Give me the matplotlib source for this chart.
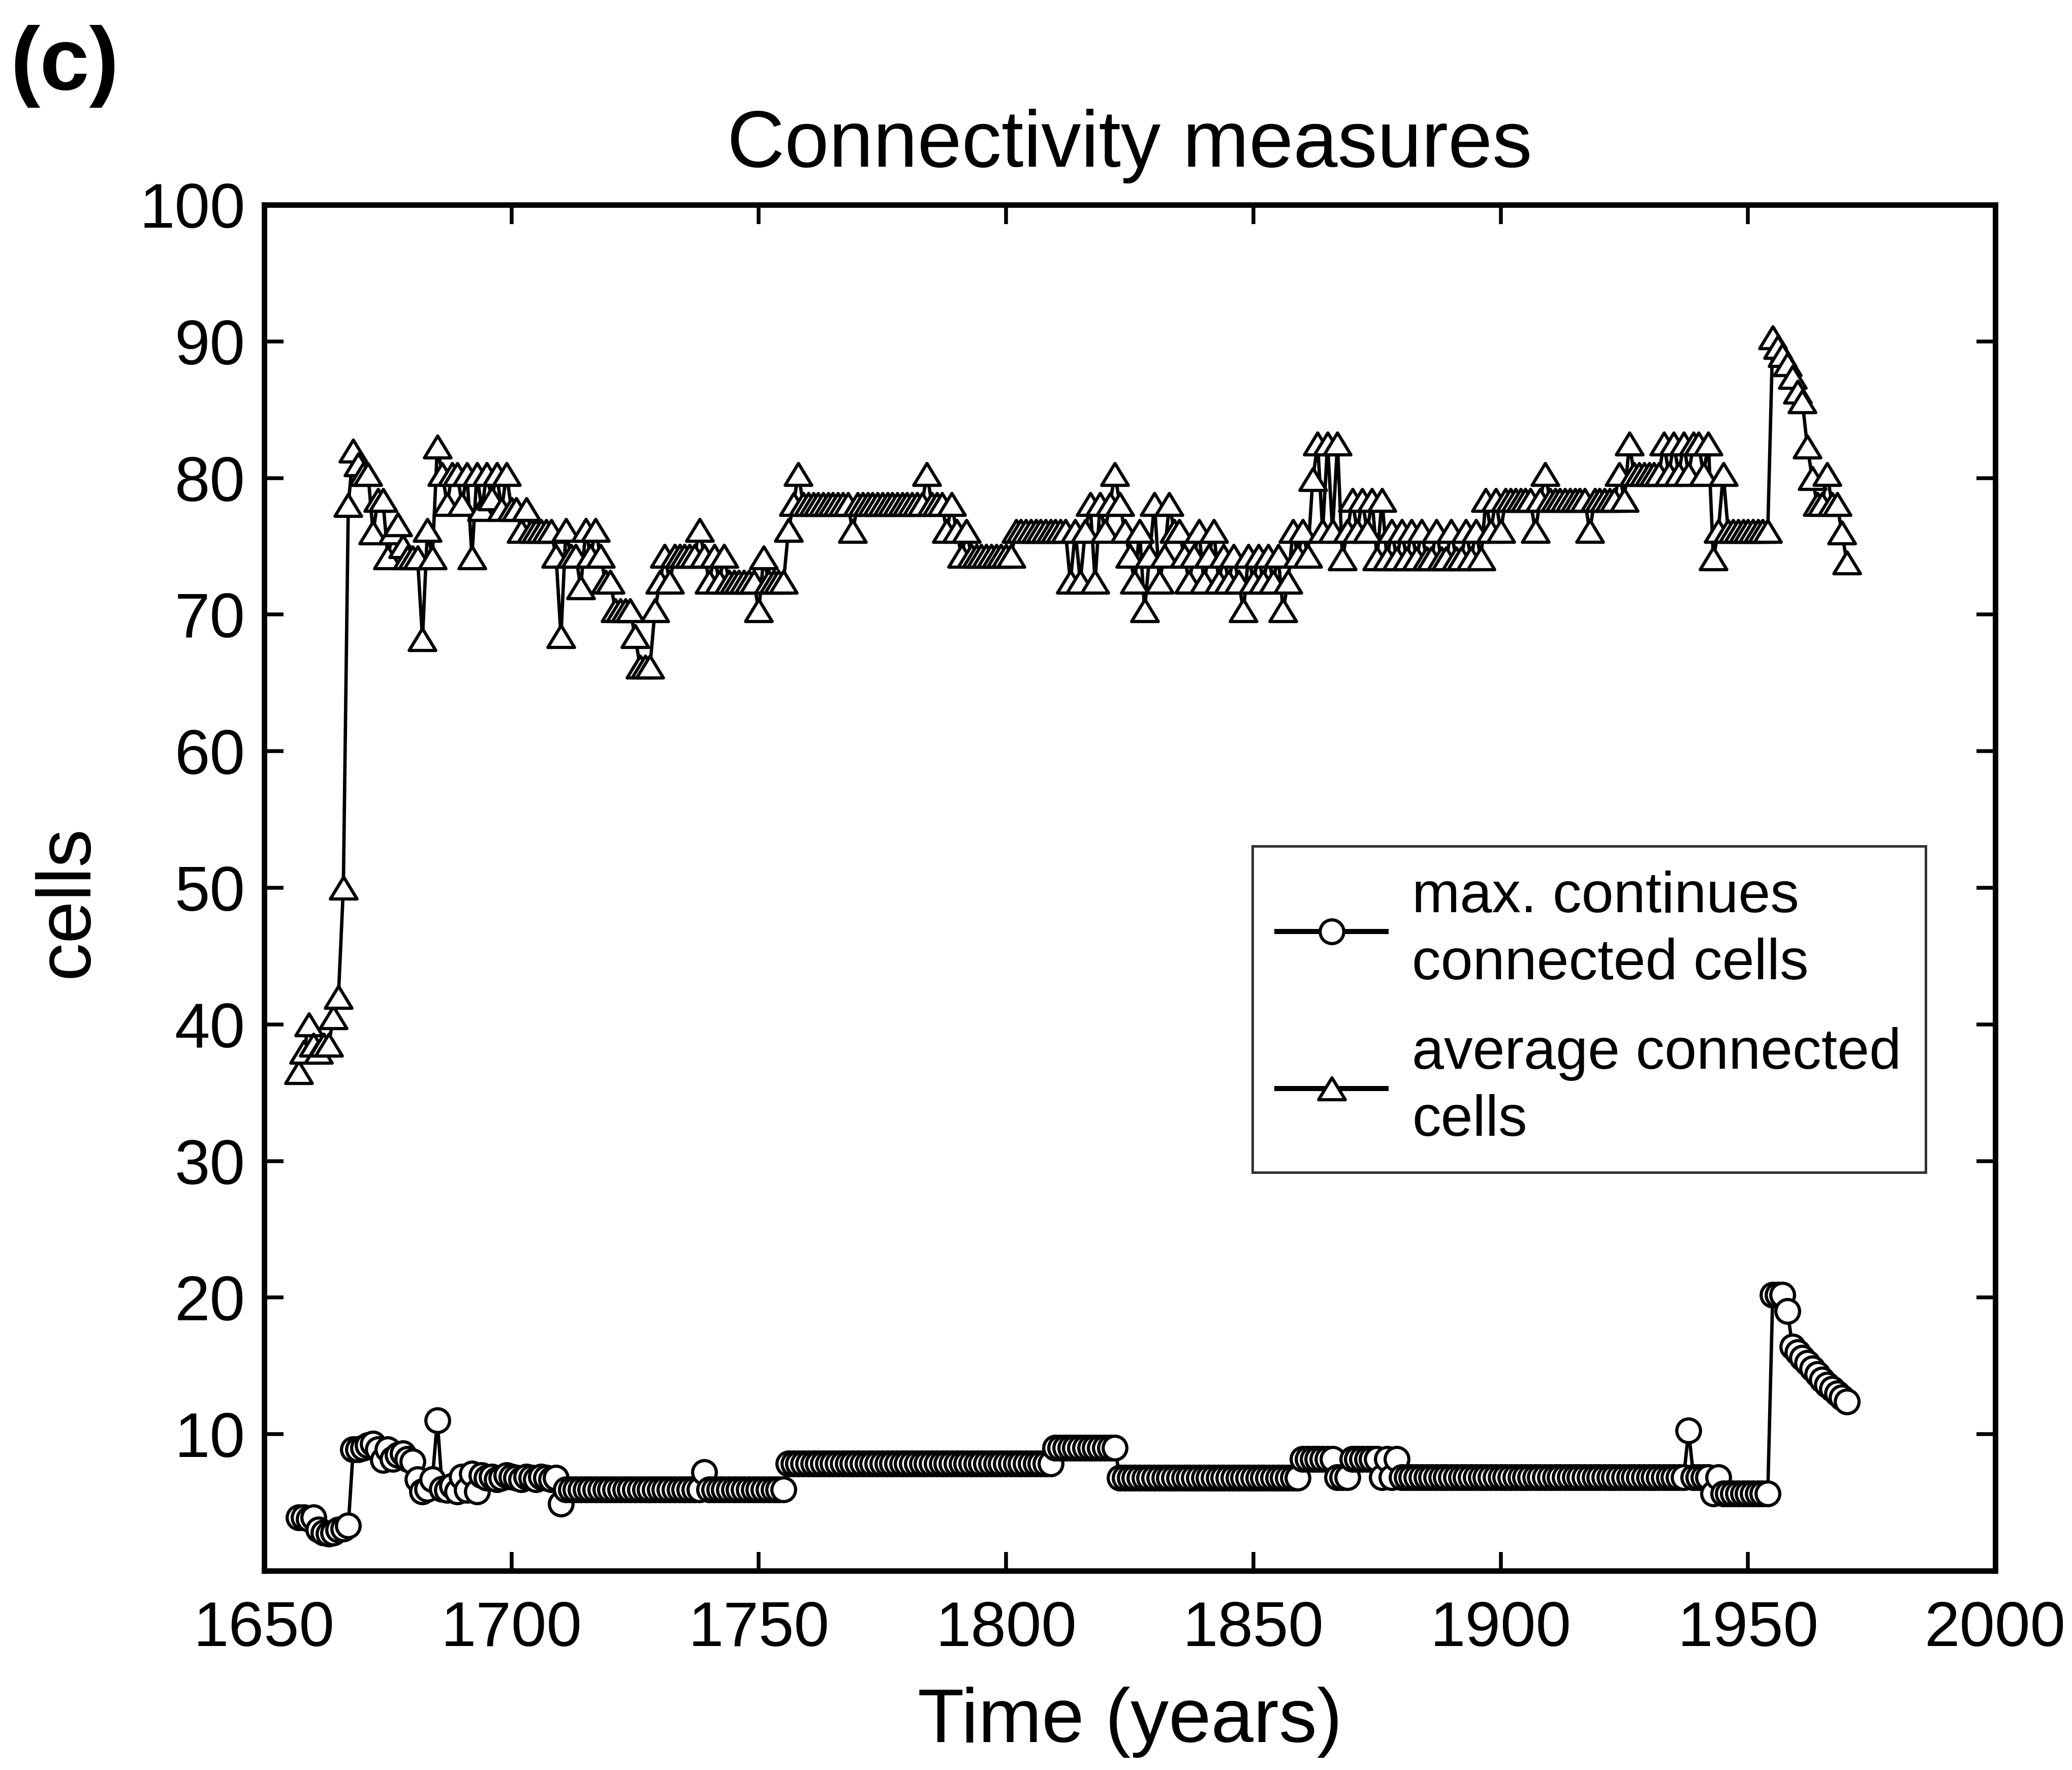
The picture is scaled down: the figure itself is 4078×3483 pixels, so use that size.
import numpy as np
import matplotlib
matplotlib.use("Agg")
import matplotlib.pyplot as plt
from matplotlib.path import Path

plt.rcParams['font.family'] = ['Liberation Sans', 'DejaVu Sans']

# years of the model run (one step per year)
years = np.arange(1657, 1971)

# max. continues connected cells (circles), 1657-1659 then one row per decade
max_cells = (
    [3.9, 3.9, 3.8]
    + [3.9, 3.0, 2.8, 2.7, 2.8, 3.0, 3.1, 3.3, 8.9, 8.9]                       # 1660s
    + [9.0, 9.2, 9.3, 8.9, 8.1, 8.9, 8.2, 8.5, 8.6, 8.2]                       # 1670s
    + [8.0, 6.7, 5.8, 6.0, 6.7, 11.0, 6.0, 5.9, 6.2, 5.8]                      # 1680s
    + [6.9, 5.9, 7.1, 5.8, 7.0, 6.8, 6.9, 6.7, 6.8, 7.0]                       # 1690s
    + [6.9, 6.8, 6.7, 6.9, 6.8, 6.7, 6.9, 6.8, 6.7, 6.8]                       # 1700s
    + [4.9] + [5.95] * 9                                                        # 1710s
    + [5.95] * 10                                                               # 1720s
    + [5.95] * 9 + [7.2]                                                        # 1730s
    + [5.95] * 10                                                               # 1740s
    + [5.95] * 6 + [7.85] * 4                                                   # 1750s
    + [7.85] * 10 + [7.85] * 10 + [7.85] * 10 + [7.85] * 10 + [7.85] * 10       # 1760s-1800s
    + [9.0] * 10                                                                # 1810s
    + [9.0] * 3 + [6.8] * 7                                                     # 1820s
    + [6.8] * 10 + [6.8] * 10                                                   # 1830s-1840s
    + [6.8] * 10                                                                # 1850s
    + [8.2] * 7 + [6.85] * 3                                                    # 1860s
    + [8.2] * 6 + [6.85, 8.2, 6.85, 8.2]                                        # 1870s
    + [6.85] * 10 + [6.85] * 10 + [6.85] * 10 + [6.85] * 10 + [6.85] * 10       # 1880s-1920s
    + [6.85] * 8 + [10.25, 6.85]                                                # 1930s
    + [6.85, 6.85, 6.85, 5.65, 6.85, 5.65, 5.65, 5.65, 5.65, 5.65]             # 1940s
    + [5.65, 5.65, 5.65, 5.65, 5.65, 20.2, 20.2, 20.2, 19.0, 16.4]             # 1950s
    + [16.0, 15.6, 15.2, 14.8, 14.4, 14.0, 13.6, 13.3, 13.0, 12.7]             # 1960s
    + [12.4]                                                                    # 1970
)

# average connected cells (triangles)
avg_cells = (
    [36.5, 38.0, 40.0]
    + [38.5, 38.0, 38.5, 38.5, 40.5, 42.0, 50.0, 78.0, 82.0, 81.0]             # 1660s
    + [80.3, 80.3, 76.0, 78.4, 78.4, 74.2, 76.0, 76.6, 75.0, 74.2]             # 1670s
    + [74.2, 74.2, 68.2, 76.2, 74.2, 82.3, 80.3, 78.1, 80.3, 80.3]             # 1680s
    + [78.1, 80.3, 74.2, 80.3, 77.7, 80.3, 78.5, 80.3, 77.7, 80.3]             # 1690s
    + [77.7, 77.7, 76.1, 77.7, 76.1, 76.1, 76.1, 76.1, 76.1, 74.3]             # 1700s
    + [68.4, 76.2, 74.3, 74.3, 72.0, 76.2, 74.3, 76.2, 74.3, 72.4]             # 1710s
    + [72.4, 70.3, 70.3, 70.3, 70.3, 68.4, 66.2, 66.2, 66.2, 70.3]             # 1720s
    + [72.4, 74.3, 72.4, 74.3, 74.3, 74.3, 74.3, 74.3, 76.2, 74.3]             # 1730s
    + [72.4, 74.3, 72.4, 74.3, 72.4, 72.4, 72.4, 72.4, 72.4, 72.4]             # 1740s
    + [70.3, 74.2, 72.4, 72.4, 72.4, 72.4, 76.2, 78.1, 80.3, 78.1]             # 1750s
    + [78.1] * 9 + [76.1]                                                       # 1760s
    + [78.1] * 10                                                               # 1770s
    + [78.1, 78.1, 78.1, 78.1, 80.3, 78.1, 78.1, 78.1, 76.1, 78.1]             # 1780s
    + [76.1, 74.3, 76.1, 74.3, 74.3, 74.3, 74.3, 74.3, 74.3, 74.3]             # 1790s
    + [74.3, 74.3, 76.1, 76.1, 76.1, 76.1, 76.1, 76.1, 76.1, 76.1]             # 1800s
    + [76.1, 76.1, 76.1, 72.4, 76.1, 72.4, 76.1, 78.1, 72.4, 78.1]             # 1810s
    + [76.1, 78.1, 80.3, 78.1, 76.1, 74.3, 72.4, 76.1, 70.3, 74.3]             # 1820s
    + [78.1, 72.4, 74.3, 78.1, 76.1, 76.1, 74.3, 72.4, 74.3, 76.1]             # 1830s
    + [72.4, 74.3, 76.1, 72.4, 74.3, 72.4, 74.3, 72.4, 70.3, 74.3]             # 1840s
    + [72.4, 74.3, 72.4, 74.3, 72.4, 74.3, 70.3, 72.4, 76.1, 74.3]             # 1850s
    + [76.1, 74.3, 79.9, 82.5, 76.1, 82.5, 76.1, 82.5, 74.1, 76.1]             # 1860s
    + [78.4, 76.1, 78.4, 76.1, 78.4, 74.1, 78.4, 74.1, 76.1, 74.1]             # 1870s
    + [76.1, 74.1, 76.1, 74.1, 76.1, 74.1, 74.1, 76.1, 74.1, 74.1]             # 1880s
    + [76.1, 74.1, 74.1, 76.1, 74.1, 76.1, 74.1, 78.4, 76.1, 78.4]             # 1890s
    + [76.1, 78.4, 78.4, 78.4, 78.4, 78.4, 78.4, 76.1, 78.4, 80.3]             # 1900s
    + [78.4, 78.4, 78.4, 78.4, 78.4, 78.4, 78.4, 78.4, 76.1, 78.4]             # 1910s
    + [78.4, 78.4, 78.4, 78.4, 80.3, 78.4, 82.5, 80.3, 80.3, 80.3]             # 1920s
    + [80.3, 80.3, 80.3, 82.5, 80.3, 82.5, 80.3, 82.5, 80.3, 82.5]             # 1930s
    + [82.5, 80.3, 82.5, 74.1, 76.1, 80.3, 76.1, 76.1, 76.1, 76.1]             # 1940s
    + [76.1, 76.1, 76.1, 76.1, 76.1, 90.3, 89.6, 89.0, 88.3, 87.4]             # 1950s
    + [86.3, 85.6, 82.3, 80.0, 78.1, 78.1, 80.3, 78.1, 78.1, 76.0]             # 1960s
    + [73.8]                                                                    # 1970
)

xticks = [1650, 1700, 1750, 1800, 1850, 1900, 1950, 2000]
yticks = [10, 20, 30, 40, 50, 60, 70, 80, 90, 100]

fig = plt.figure(figsize=(4078 / 600, 3483 / 600), dpi=600)
ax = fig.add_axes([520 / 4078, 1 - 3091 / 3483, 3407 / 4078, 2688 / 3483])

# MATLAB-like open triangle, a bit wider than tall
tri = Path([(-1, -0.82), (1, -0.82), (0, 0.82), (-1, -0.82)], closed=True)

ax.plot(years, max_cells, '-', color='k', lw=0.8, marker='o', ms=5.6,
        mfc='white', mec='k', mew=0.75, label='max. continues\nconnected cells')
ax.plot(years, avg_cells, '-', color='k', lw=0.8, marker=tri, ms=6.3,
        mfc='white', mec='k', mew=0.75, label='average connected\ncells')

ax.set_xlim(1650, 2000)
ax.set_ylim(0, 100)
ax.set_xticks(xticks)
ax.set_yticks(yticks)
ax.tick_params(direction='in', length=4.5, width=0.9, top=True, right=True,
               labelsize=15)
ax.tick_params(axis='x', pad=7)
ax.tick_params(axis='y', pad=4.5)
for s in ax.spines.values():
    s.set_linewidth(1.3)

ax.set_title('Connectivity measures', fontsize=18.8, pad=9)
ax.set_xlabel('Time (years)', fontsize=18)
ax.set_ylabel('cells', fontsize=18)
ax.xaxis.set_label_coords(0.5, -0.085)
ax.yaxis.set_label_coords(-0.093, 0.49)

leg = ax.legend(loc='upper left', bbox_to_anchor=(0.571, 0.5305), fontsize=13.6,
                frameon=True, fancybox=False, edgecolor='k', handlelength=1.9,
                borderpad=0.42, labelspacing=0.62, handletextpad=0.45,
                borderaxespad=0)
leg.get_frame().set_linewidth(0.6)
for h in leg.get_lines():
    h.set_linewidth(1.2)
for t in leg.get_texts():
    t.set_linespacing(1.32)

fig.text(0.005, 0.986, '(c)', fontsize=21, fontweight='bold', va='top', ha='left')

fig.savefig('out.png', dpi=600)
